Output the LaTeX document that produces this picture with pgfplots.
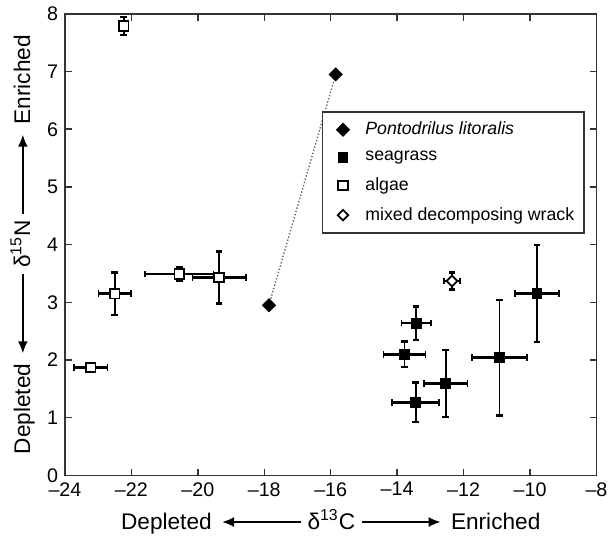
\documentclass[border=0pt]{standalone}
\usepackage{pgfplots}
\pgfplotsset{compat=1.18}
\usepackage{fontspec}
\setmainfont{Liberation Sans}
\usetikzlibrary{arrows.meta}
\newcommand{\larr}{\tikz[baseline=-0.6ex]\draw[line width=0.7pt,{Latex[length=6pt,width=5pt]}-] (0,0)--(40pt,0);}
\newcommand{\rarr}{\tikz[baseline=-0.6ex]\draw[line width=0.7pt,-{Latex[length=6pt,width=5pt]}] (0,0)--(40pt,0);}
\pgfplotstableread{
x y ex ey
-9.79 3.15 0.67 0.84
-13.43 2.64 0.44 0.29
-13.78 2.10 0.63 0.22
-13.44 1.27 0.71 0.34
-12.54 1.59 0.66 0.58
-10.92 2.04 0.83 1.00
}\seagrass
\pgfplotstableread{
x y ex ey
-22.23 7.79 0.05 0.16
-22.50 3.15 0.49 0.37
-20.56 3.49 1.03 0.12
-19.36 3.43 0.80 0.45
-23.22 1.87 0.50 0.07
}\algae
\pgfplotstableread{
x y ex ey
-12.35 3.37 0.25 0.15
}\wrack
\pgfplotstableread{
x y
-17.86 2.95
-15.85 6.95
}\ponto
\pgfplotsset{
  xerr/.style={forget plot, only marks, mark=none,
    error bars/.cd, x dir=both, x explicit, y dir=none,
    error bar style={line width=1.4pt, black},
    error mark options={rotate=90, mark size=1.7pt, line width=0.9pt, black}},
  yerr/.style={error bars/.cd, y dir=both, y explicit, x dir=none,
    error bar style={line width=0.9pt, black},
    error mark options={rotate=90, mark size=1.7pt, line width=1.2pt, black}},
}
\begin{document}
\begin{tikzpicture}
\begin{axis}[
  scale only axis, width=270pt, height=234.5pt,
  xmin=-24, xmax=-8, ymin=0, ymax=8,
  clip=false,
  xtick={-24,-22,...,-8},
  xticklabels={--24,--22,--20,--18,--16,--14,--12,--10,--8},
  ytick={0,...,8},
  yticklabels={0,1,2,3,4,5,6,7,8},
  tick align=inside,
  major tick length=3.5pt,
  axis line style={black!80, line width=0.8pt},
  tick style={black!80, line width=0.75pt},
  ticklabel style={font=\fontsize{10}{12}\selectfont},
  xlabel={Depleted\hspace{5pt}\larr\hspace{3pt}δ\textsuperscript{13}C\hspace{3pt}\rarr\hspace{5pt}Enriched},
  ylabel={Depleted\hspace{5pt}\larr\hspace{3pt}δ\textsuperscript{15}N\hspace{3pt}\rarr\hspace{5pt}Enriched},
  xlabel style={at={(axis description cs:0.5,-0.1002)}, anchor=center, font=\fontsize{11.5}{13}\selectfont},
  ylabel style={at={(axis description cs:-0.0796,0.5)}, anchor=center, font=\fontsize{11.5}{13}\selectfont},
  legend style={at={(0.978,0.789)}, anchor=north east, draw=black!80, line width=0.8pt,
    font=\fontsize{9}{10.8}\selectfont, row sep=3pt, inner xsep=3pt, inner ysep=3pt},
  legend cell align=left,
  legend image code/.code={\path (-3pt,0) (13pt,0); \draw[#1] plot coordinates {(4pt,0pt)};},
]
\path (rel axis cs:-0.1222,-0.1365) rectangle (rel axis cs:1.0148,1.0299);
\addplot[forget plot, black!60, densely dotted, line width=0.7pt] table[x=x,y=y] {\ponto};
\addplot[xerr] table[x=x, y=y, x error=ex] {\seagrass};
\addplot[xerr] table[x=x, y=y, x error=ex] {\algae};
\addplot[xerr] table[x=x, y=y, x error=ex] {\wrack};
\addplot[only marks, black, mark=square*, mark size=2.3pt, mark options={rotate=45, fill=black, line width=0.5pt}]
  table[x=x,y=y] {\ponto};
\addlegendentry{\textit{Pontodrilus litoralis}}
\addplot[only marks, black, mark=square*, mark size=2.5pt, mark options={fill=black, line width=0.5pt}, yerr]
  table[x=x, y=y, y error=ey] {\seagrass};
\addlegendentry{seagrass}
\addplot[only marks, black, mark=square*, mark size=2.4pt, mark options={fill=white, line width=0.9pt}, yerr]
  table[x=x, y=y, y error=ey] {\algae};
\addlegendentry{algae}
\addplot[only marks, black, mark=square*, mark size=1.9pt, mark options={rotate=45, fill=white, line width=0.9pt}, yerr]
  table[x=x, y=y, y error=ey] {\wrack};
\addlegendentry{mixed decomposing wrack}
\end{axis}
\end{tikzpicture}
\end{document}
